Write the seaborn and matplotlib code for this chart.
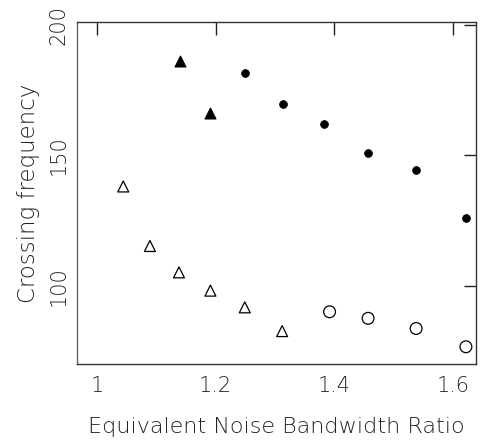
import matplotlib
matplotlib.use("Agg")
import matplotlib.pyplot as plt
import seaborn as sns
import pandas as pd

# Data
filled_tri_x = [1.139, 1.190]
filled_tri_y = [185.9, 166.1]
filled_circ_x = [1.250, 1.313, 1.383, 1.457, 1.538, 1.622]
filled_circ_y = [181.5, 169.4, 161.9, 151.0, 144.3, 126.0]
open_tri_x = [1.044, 1.089, 1.138, 1.191, 1.249, 1.312]
open_tri_y = [138.0, 115.2, 105.1, 98.1, 91.7, 82.6]
open_circ_x = [1.392, 1.457, 1.538, 1.622]
open_circ_y = [90.0, 87.5, 83.6, 76.6]

xticks = [1.0, 1.2, 1.4, 1.6]
xticklabels = ["1", "1.2", "1.4", "1.6"]
yticks = [100, 150, 200]
yticklabels = ["100", "150", "200"]

sns.set_style("white")
plt.rcParams["font.family"] = ["DejaVu Sans"]

fig = plt.figure(figsize=(4.86, 4.41), dpi=100)
ax = fig.add_axes([77/486, 1 - 364/441, (476-77)/486, (364-22)/441])

sns.scatterplot(x=filled_tri_x, y=filled_tri_y, ax=ax, marker="^", s=62,
                color="black", edgecolor="black", linewidth=0.8)
sns.scatterplot(x=filled_circ_x, y=filled_circ_y, ax=ax, marker="o", s=32,
                color="black", edgecolor="black", linewidth=0.5)
sns.scatterplot(x=open_tri_x, y=open_tri_y, ax=ax, marker="^", s=62,
                facecolor="none", edgecolor="black", linewidth=0.9)
sns.scatterplot(x=open_circ_x, y=open_circ_y, ax=ax, marker="o", s=72,
                facecolor="none", edgecolor="black", linewidth=0.9)

ax.set_xlim(0.966, 1.639)
ax.set_ylim(70.0, 201.0)
ax.set_xticks(xticks)
ax.set_xticklabels(xticklabels)
ax.set_yticks(yticks)
ax.set_yticklabels(yticklabels, rotation=90, va="center")

for sp in ax.spines.values():
    sp.set_visible(True)
    sp.set_color("#333333")
    sp.set_linewidth(1.0)
ax.spines["left"].set_color("#666666")

ax.tick_params(axis="both", direction="in", length=9, width=1.0, color="#222222",
               top=True, right=True, labelsize=15, labelcolor="#222222")
ax.tick_params(axis="x", pad=9)
ax.tick_params(axis="y", pad=6)
for lab in ax.get_xticklabels() + ax.get_yticklabels():
    lab.set_fontweight("light")

ax.set_xlabel("Equivalent Noise Bandwidth Ratio", fontsize=16, labelpad=15,
              color="#222222", fontweight="light")
ax.set_ylabel("Crossing frequency", fontsize=16.5, labelpad=6,
              color="#222222", fontweight="light")

fig.savefig("out.png", dpi=100)
